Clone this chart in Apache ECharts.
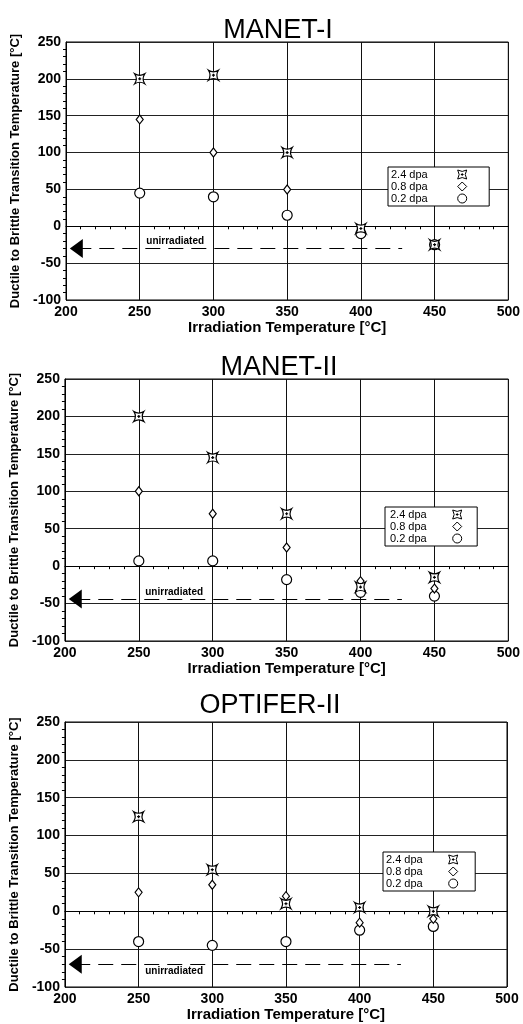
<!DOCTYPE html>
<html><head><meta charset="utf-8">
<script src="https://cdn.jsdelivr.net/npm/echarts@6/dist/echarts.min.js"></script>
<style>html,body{margin:0;padding:0;background:#fff}#c{width:523px;height:1024px}</style>
</head><body><div id="c"></div>
<script>
// ---- data ----
const xTicks = [200, 250, 300, 350, 400, 450, 500];
const yTicks = [-100, -50, 0, 50, 100, 150, 200, 250];
const irrTemps = [250, 300, 350, 400, 450];
const titles = ['MANET-I', 'MANET-II', 'OPTIFER-II'];
const doseNames = ['2.4 dpa', '0.8 dpa', '0.2 dpa'];
const manet1_24 = [200, 205, 100, -3, -25];
const manet1_08 = [145, 100, 50, null, null];
const manet1_02 = [45, 40, 15, -10, -25];
const manet2_24 = [200, 145, 70, -28, -15];
const manet2_08 = [100, 70, 25, -20, -30];
const manet2_02 = [7, 7, -18, -35, -40];
const optifer_24 = [125, 55, 10, 5, 0];
const optifer_08 = [25, 35, 20, -15, -10];
const optifer_02 = [-40, -45, -40, -25, -20];
const unirradiated = [-30, -44, -70];
const unirrLabel = 'unirradiated';
const unirrSpan = [207, 428];
const xTitle = 'Irradiation Temperature [°C]';
const yTitle = 'Ductile to Brittle Transition Temperature [°C]';

const panels = [
  [manet1_24, manet1_08, manet1_02],
  [manet2_24, manet2_08, manet2_02],
  [optifer_24, optifer_08, optifer_02]
];

// ---- layout (style only) ----
const layout = [
  {left: 66, top: 42, right: 11, height: 258, titleX: 273, titleY: 12, xGap: 13, leg: {left: 388, top: 167, pad: [2, 22, 2, 3], tp: 25}, labelPos: 'insideStartTop'},
  {left: 64, top: 379, right: 14, height: 262, titleX: 274, titleY: 349, xGap: 17, leg: {left: 385, top: 507, pad: [2, 15, 2, 5], tp: 21}, labelPos: 'insideStartTop'},
  {left: 63, top: 722, right: 16, height: 265, titleX: 265, titleY: 687, xGap: 17, leg: {left: 383, top: 852, pad: [2, 17, 2, 3], tp: 21}, labelPos: 'insideStartBottom'}
];

const starPath = 'path://M0,0 Q5,3.2 10,0 Q6.8,5 10,10 Q5,6.8 0,10 Q3.2,5 0,0 Z M5,3.5 L5,6.5 M3.5,5 L6.5,5';
const symbols = [starPath, 'diamond', 'circle'];
const symSizes = [10, [7, 9], 10];

const F = 'Liberation Sans, Arial, sans-serif';
const grid = [], xAxis = [], yAxis = [], title = [], legend = [], series = [];

layout.forEach((L, p) => {
  grid.push({left: L.left, top: L.top, right: L.right, height: L.height, show: true, borderColor: '#000', borderWidth: 1, containLabel: false});
  title.push({text: titles[p], left: L.titleX, top: L.titleY, textAlign: 'center',
    textStyle: {fontFamily: F, fontSize: 27, fontWeight: 'normal', color: '#000'}});
  xAxis.push({type: 'value', gridIndex: p, min: xTicks[0], max: xTicks[xTicks.length - 1], interval: 50,
    name: xTitle, nameLocation: 'middle', nameGap: L.xGap,
    nameTextStyle: {fontFamily: F, fontSize: 15, fontWeight: 'bold', color: '#000'},
    axisLine: {show: true, lineStyle: {color: '#000'}},
    axisTick: {show: false},
    minorTick: {show: true, splitNumber: 5, length: 3, lineStyle: {color: '#000'}},
    axisLabel: {fontFamily: F, fontSize: 14, fontWeight: 'bold', color: '#000', margin: 5},
    splitLine: {show: true, lineStyle: {color: '#111', width: 1}}
  });
  yAxis.push({type: 'value', gridIndex: p, min: yTicks[0], max: yTicks[yTicks.length - 1], interval: 50,
    name: yTitle, nameLocation: 'middle', nameGap: 41, nameRotate: 90,
    nameTextStyle: {fontFamily: F, fontSize: 13, fontWeight: 'bold', color: '#000'},
    axisLine: {show: true, lineStyle: {color: '#000'}},
    axisTick: {show: false},
    minorTick: {show: true, splitNumber: 5, length: 3, lineStyle: {color: '#000'}},
    axisLabel: {fontFamily: F, fontSize: 14, fontWeight: 'bold', color: '#000', margin: 5},
    splitLine: {show: true, lineStyle: {color: '#222', width: 1}}
  });
  legend.push({orient: 'vertical', left: L.leg.left, top: L.leg.top, align: 'right',
    data: doseNames, itemGap: 1, itemWidth: 9, itemHeight: 9,
    padding: L.leg.pad, borderColor: '#000', borderWidth: 1, backgroundColor: '#fff',
    selectedMode: false,
    itemStyle: {borderWidth: 1},
    textStyle: {fontFamily: F, fontSize: 11, color: '#000', padding: [0, L.leg.tp, 0, 0]}
  });
  panels[p].forEach((vals, s) => {
    const data = irrTemps.map((t, i) => [t, vals[i]]).filter(d => d[1] !== null);
    const ser = {type: 'scatter', name: doseNames[s], xAxisIndex: p, yAxisIndex: p, data: data,
      symbol: symbols[s], symbolSize: symSizes[s], z: 5 - s,
      itemStyle: {color: '#fff', borderColor: '#000', borderWidth: 1.2, opacity: 1},
      emphasis: {disabled: true}};
    if (s === 2) {
      ser.markLine = {silent: true, symbol: ['triangle', 'none'], symbolSize: [19, 13],
        lineStyle: {color: '#000', type: [15, 8], width: 1.2},
        label: {show: true, formatter: unirrLabel, position: L.labelPos, fontFamily: F, fontSize: 10,
          fontWeight: 'bold', color: '#000', padding: [0, 0, 0, 68], distance: 2},
        data: [[{coord: [unirrSpan[0], unirradiated[p]]}, {coord: [unirrSpan[1], unirradiated[p]]}]]
      };
    }
    series.push(ser);
  });
});

const chart = echarts.init(document.getElementById('c'), null, {renderer: 'canvas'});
chart.setOption({animation: false, backgroundColor: '#fff', title, grid, xAxis, yAxis, legend, series});
</script></body></html>
